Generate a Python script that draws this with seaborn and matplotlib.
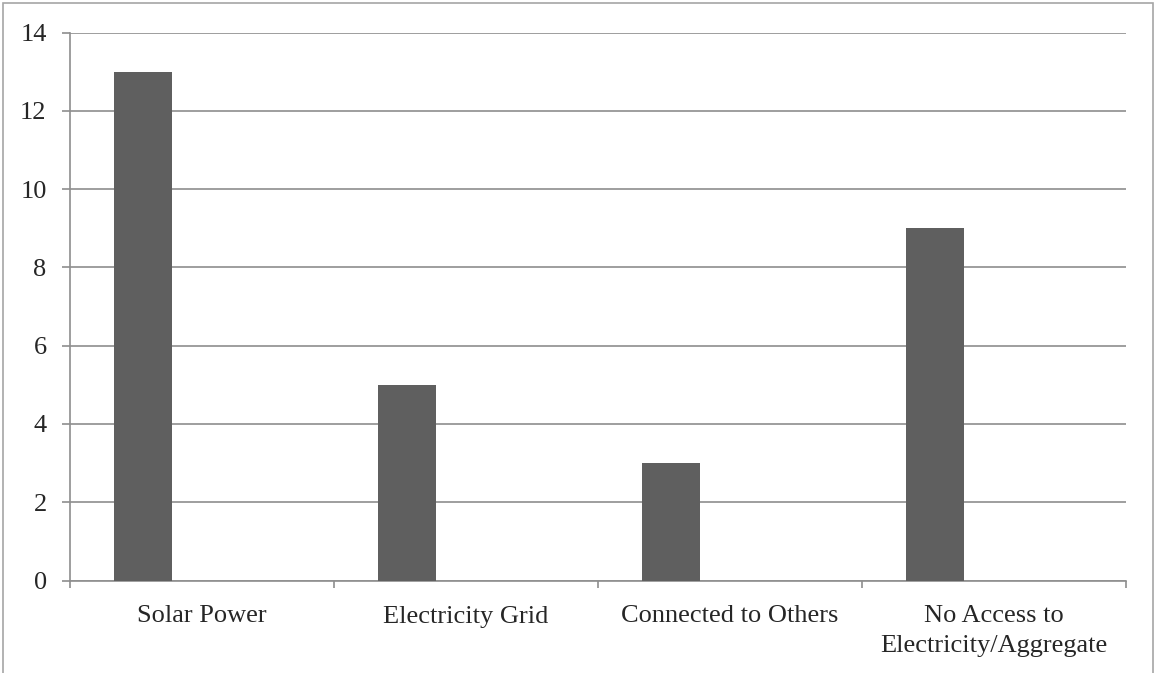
import numpy as np
import pandas as pd
import matplotlib
matplotlib.use("Agg")
import matplotlib.pyplot as plt
from matplotlib.patches import Rectangle
import seaborn as sns

# Access-to-electricity responses
categories = ["Solar Power", "Electricity Grid", "Connected to Others",
              "No Access to\nElectricity/Aggregate"]
counts = [13, 5, 3, 9]
y_ticks = [0, 2, 4, 6, 8, 10, 12, 14]

sns.set_theme(style="white")
plt.rcParams["font.family"] = ["Liberation Serif", "DejaVu Serif"]
plt.rcParams["font.size"] = 19

grid_color = "#8e8e8e"
bar_color = "#5f5f5f"

# Bars sit left of the category centre, as in a clustered column layout
bar_width = 0.22
bar_shift = -0.223
idx = np.arange(len(categories))
df = pd.DataFrame({"pos": idx + bar_shift, "count": counts})

fig = plt.figure(figsize=(11.55, 6.73), dpi=100)
ax = fig.add_axes([70 / 1155, 1 - 580.5 / 673, (1126 - 70) / 1155, (580.5 - 32.5) / 673])

sns.barplot(data=df, x="pos", y="count", native_scale=True, width=bar_width,
            color=bar_color, saturation=1, linewidth=0, ax=ax, zorder=3)

ax.set_xlim(-0.5, len(categories) - 0.5)
ax.set_ylim(0, 14)
ax.set_yticks(y_ticks)
ax.set_yticklabels([str(t) for t in y_ticks])

# Category boundaries carry the tick marks, centres carry the labels
ax.set_xticks(np.arange(len(categories) + 1) - 0.5)
ax.set_xticklabels([])
ax.set_xticks(idx, minor=True)
ax.set_xticklabels(categories, minor=True, linespacing=1.42)
ax.tick_params(axis="x", which="major", direction="out", length=5, width=1.2,
               color=grid_color, bottom=True)
ax.tick_params(axis="x", which="minor", length=0, pad=18, labelsize=19)
ax.tick_params(axis="y", direction="out", length=5.8, width=1.2,
               color=grid_color, pad=11, labelsize=19, left=True)

ax.set_xlabel("")
ax.set_ylabel("")
ax.grid(axis="y", color=grid_color, linewidth=1.2)
ax.grid(axis="x", visible=False)
ax.set_axisbelow(True)

for side in ["top", "right"]:
    ax.spines[side].set_visible(False)
for side in ["left", "bottom"]:
    ax.spines[side].set_color(grid_color)
    ax.spines[side].set_linewidth(1.2)

# Chart-area frame
fig.patches.append(Rectangle((3 / 1155, -0.1), (1153 - 3) / 1155, 1.1 - 3 / 673,
                             transform=fig.transFigure, fill=False,
                             edgecolor="#a6a6a6", linewidth=1.2, clip_on=False))

fig.savefig("out.png", dpi=100)
